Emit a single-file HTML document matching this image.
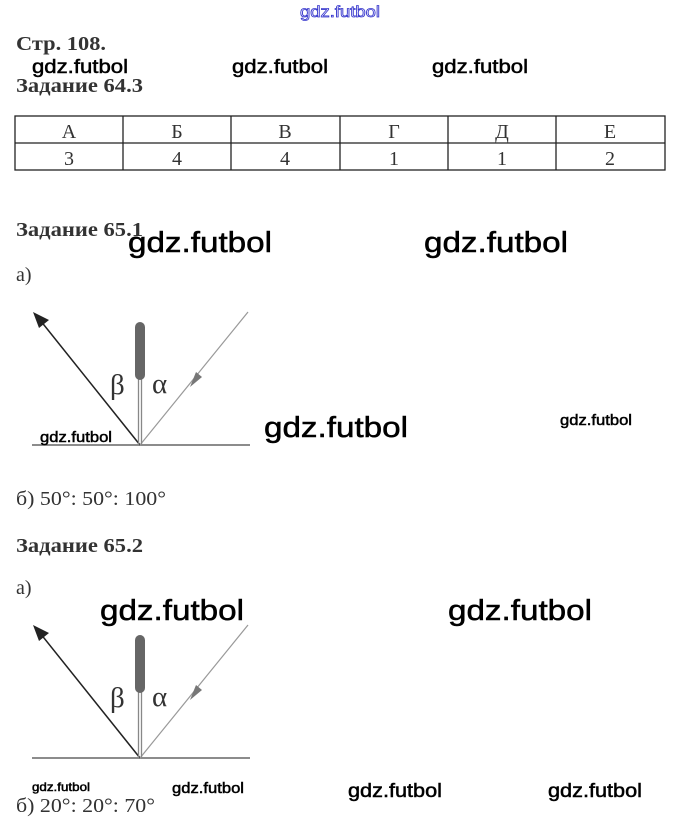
<!DOCTYPE html>
<html><head><meta charset="utf-8"><style>
html,body{margin:0;padding:0;background:#fff;}
svg{display:block;}
.s{font-family:"Liberation Serif",serif;fill:#333;}
.b{font-weight:bold;}
.w{font-family:"Liberation Sans",sans-serif;fill:#000;stroke:#000;stroke-width:0.5;}
</style></head><body>
<svg width="679" height="838" viewBox="0 0 679 838" xmlns="http://www.w3.org/2000/svg">
<text x="300" y="17" font-family="Liberation Sans,sans-serif" font-size="16" fill="#fff" stroke="#3333cc" stroke-width="0.8" textLength="80" lengthAdjust="spacingAndGlyphs">gdz.futbol</text>

<text class="s b" x="16" y="50" font-size="20" textLength="90" lengthAdjust="spacingAndGlyphs">Стр. 108.</text>
<text class="w" x="32" y="73" font-size="19" textLength="96" lengthAdjust="spacingAndGlyphs">gdz.futbol</text>
<text class="w" x="232" y="73" font-size="19" textLength="96" lengthAdjust="spacingAndGlyphs">gdz.futbol</text>
<text class="w" x="432" y="73" font-size="19" textLength="96" lengthAdjust="spacingAndGlyphs">gdz.futbol</text>
<text class="s b" x="16" y="92" font-size="20" textLength="127" lengthAdjust="spacingAndGlyphs">Задание 64.3</text>

<g stroke="#222" stroke-width="1.3" fill="none">
<rect x="15" y="116" width="650" height="54"/>
<line x1="15" y1="143" x2="665" y2="143"/>
<line x1="123" y1="116" x2="123" y2="170"/>
<line x1="231" y1="116" x2="231" y2="170"/>
<line x1="340" y1="116" x2="340" y2="170"/>
<line x1="448" y1="116" x2="448" y2="170"/>
<line x1="556" y1="116" x2="556" y2="170"/>
</g>
<g class="s" font-size="20" text-anchor="middle" fill="#444">
<text x="69" y="138">А</text><text x="177" y="138">Б</text><text x="285" y="138">В</text><text x="394" y="138">Г</text><text x="502" y="138">Д</text><text x="610" y="138">Е</text>
<text x="69" y="165">3</text><text x="177" y="165">4</text><text x="285" y="165">4</text><text x="394" y="165">1</text><text x="502" y="165">1</text><text x="610" y="165">2</text>
</g>

<text class="s b" x="16" y="236" font-size="20" textLength="127" lengthAdjust="spacingAndGlyphs">Задание 65.1</text>
<text class="w" x="128" y="252" font-size="29" textLength="144" lengthAdjust="spacingAndGlyphs">gdz.futbol</text>
<text class="w" x="424" y="252" font-size="29" textLength="144" lengthAdjust="spacingAndGlyphs">gdz.futbol</text>
<text class="s" x="16" y="281" font-size="20" fill="#555">а)</text>

<g id="d1">
<line x1="32" y1="445" x2="250" y2="445" stroke="#666" stroke-width="1.5"/>
<line x1="140" y1="445" x2="40" y2="320" stroke="#222" stroke-width="1.5"/>
<polygon points="33,312 49,320 39,328" fill="#222"/>
<line x1="140" y1="445" x2="248" y2="312" stroke="#999" stroke-width="1.2"/>
<polygon points="190,387 196,372 202,377" fill="#777"/>
<line x1="138.5" y1="378" x2="138.5" y2="445" stroke="#888" stroke-width="1.3"/>
<line x1="141.5" y1="378" x2="141.5" y2="445" stroke="#888" stroke-width="1.3"/>
<rect x="135" y="322" width="10" height="58" rx="5" fill="#666"/>
<text x="110" y="394" font-family="Liberation Serif,serif" font-size="29" fill="#333">β</text>
<text x="152" y="393" font-family="Liberation Serif,serif" font-size="29" fill="#333">α</text>
</g>
<text class="w" x="40" y="442" font-size="15" textLength="72" lengthAdjust="spacingAndGlyphs">gdz.futbol</text>
<text class="w" x="264" y="437" font-size="29" textLength="144" lengthAdjust="spacingAndGlyphs">gdz.futbol</text>
<text class="w" x="560" y="425" font-size="15" textLength="72" lengthAdjust="spacingAndGlyphs">gdz.futbol</text>

<text class="s" x="16" y="505" font-size="20" fill="#555" textLength="150" lengthAdjust="spacingAndGlyphs">б) 50°: 50°: 100°</text>
<text class="s b" x="16" y="552" font-size="20" textLength="127" lengthAdjust="spacingAndGlyphs">Задание 65.2</text>
<text class="s" x="16" y="594" font-size="20" fill="#555">а)</text>
<text class="w" x="100" y="620" font-size="29" textLength="144" lengthAdjust="spacingAndGlyphs">gdz.futbol</text>
<text class="w" x="448" y="620" font-size="29" textLength="144" lengthAdjust="spacingAndGlyphs">gdz.futbol</text>

<use href="#d1" transform="translate(0,313)"/>

<text class="w" x="32" y="791" font-size="12" textLength="58" lengthAdjust="spacingAndGlyphs">gdz.futbol</text>
<text class="w" x="172" y="793" font-size="15" textLength="72" lengthAdjust="spacingAndGlyphs">gdz.futbol</text>
<text class="w" x="348" y="797" font-size="19" textLength="94" lengthAdjust="spacingAndGlyphs">gdz.futbol</text>
<text class="w" x="548" y="797" font-size="19" textLength="94" lengthAdjust="spacingAndGlyphs">gdz.futbol</text>
<text class="s" x="16" y="812" font-size="20" fill="#555" textLength="139" lengthAdjust="spacingAndGlyphs">б) 20°: 20°: 70°</text>
</svg>
</body></html>
